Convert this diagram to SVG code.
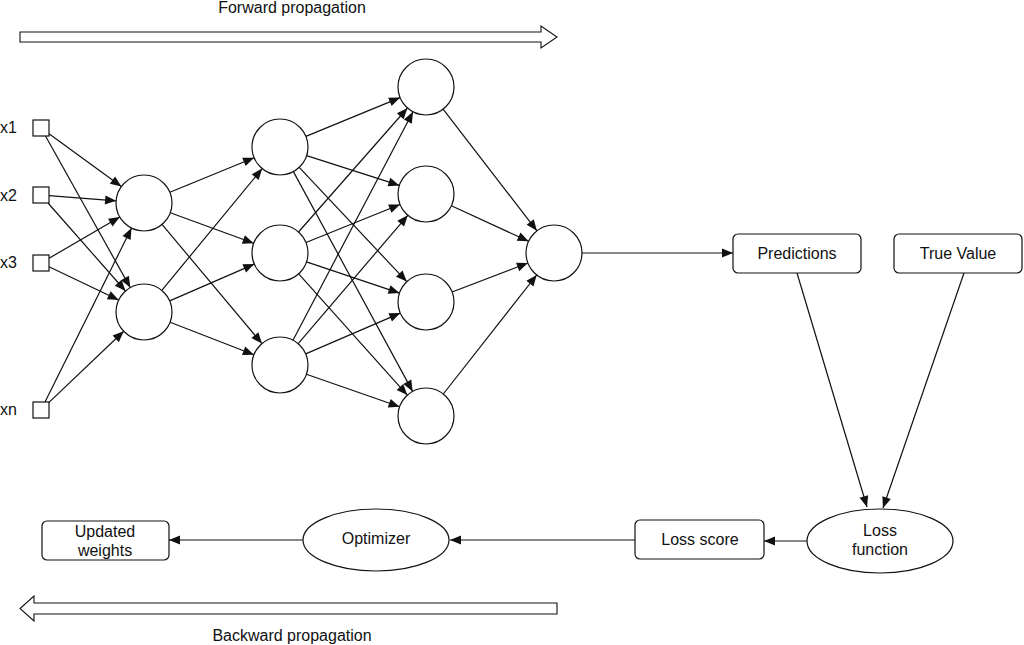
<svg xmlns="http://www.w3.org/2000/svg" width="1024" height="645" viewBox="0 0 1024 645">
<style>
.n{fill:#fff;stroke:#111;stroke-width:1.2}
.e{fill:none;stroke:#111;stroke-width:1.2;marker-end:url(#ah)}
.t{font-family:"Liberation Sans",Arial,sans-serif;font-size:16px;fill:#111;text-anchor:middle}
.l{font-family:"Liberation Sans",Arial,sans-serif;font-size:16px;fill:#111}
.big{fill:#fff;stroke:#111;stroke-width:1.1}
</style>
<defs>
<marker id="ah" markerUnits="userSpaceOnUse" markerWidth="12" markerHeight="10" refX="11" refY="4.5" orient="auto" overflow="visible">
<path d="M0,0 L11,4.5 L0,9 z" fill="#111"/>
</marker>
</defs>
<rect width="1024" height="645" fill="#fff"/>
<g id="forward">
<path class="big" d="M20,32 L541,32 L541,26 L557,37 L541,48 L541,42 L20,42 z"/>
<text class="t" x="292" y="13">Forward propagation</text>
</g>
<g id="backward">
<path class="big" d="M557,603 L34,603 L34,596 L20,608.5 L34,621 L34,614 L557,614 z"/>
<text class="t" x="292" y="641">Backward propagation</text>
</g>
<g id="connectors">
<line class="e" x1="49" y1="133.8" x2="121.4" y2="186.5"/>
<line class="e" x1="45.5" y1="136" x2="130.3" y2="287.6"/>
<line class="e" x1="49" y1="195.6" x2="116.1" y2="200.8"/>
<line class="e" x1="48" y1="203" x2="125.5" y2="291"/>
<line class="e" x1="49" y1="258.3" x2="119.8" y2="217.1"/>
<line class="e" x1="49" y1="266.8" x2="118.7" y2="300"/>
<line class="e" x1="45" y1="402" x2="131.5" y2="228.1"/>
<line class="e" x1="49" y1="402.4" x2="123.7" y2="331.3"/>
<line class="e" x1="169.9" y1="192.3" x2="254.1" y2="157.7"/>
<line class="e" x1="170.3" y1="212.7" x2="253.7" y2="243.3"/>
<line class="e" x1="162" y1="224.4" x2="262" y2="343.6"/>
<line class="e" x1="161.8" y1="290.4" x2="262.2" y2="168.6"/>
<line class="e" x1="169.7" y1="300.9" x2="254.3" y2="264.1"/>
<line class="e" x1="170.1" y1="322.2" x2="253.9" y2="354.8"/>
<line class="e" x1="305.9" y1="136.4" x2="400.1" y2="97.6"/>
<line class="e" x1="306.6" y1="155.6" x2="399.4" y2="185.4"/>
<line class="e" x1="299.2" y1="167.4" x2="406.8" y2="281.6"/>
<line class="e" x1="293.4" y1="171.6" x2="412.6" y2="391.4"/>
<line class="e" x1="298.5" y1="232" x2="407.5" y2="108"/>
<line class="e" x1="306" y1="242.5" x2="400" y2="204.5"/>
<line class="e" x1="306.5" y1="261.9" x2="399.5" y2="293.1"/>
<line class="e" x1="298.7" y1="273.9" x2="407.3" y2="395.1"/>
<line class="e" x1="293" y1="340.2" x2="413" y2="111.8"/>
<line class="e" x1="298.2" y1="343.7" x2="407.8" y2="215.3"/>
<line class="e" x1="305.7" y1="353.9" x2="400.3" y2="313.1"/>
<line class="e" x1="306.4" y1="374.2" x2="399.6" y2="406.8"/>
<line class="e" x1="443.1" y1="109.2" x2="536.9" y2="230.8"/>
<line class="e" x1="451.4" y1="205.7" x2="528.6" y2="241.3"/>
<line class="e" x1="452.1" y1="292" x2="527.9" y2="263"/>
<line class="e" x1="443.3" y1="394" x2="536.7" y2="275"/>
<line class="e" x1="582" y1="253" x2="733" y2="253"/>
<line class="e" x1="797" y1="273" x2="867" y2="507"/>
<line class="e" x1="964" y1="273" x2="883" y2="508"/>
<line class="e" x1="807" y1="541" x2="764" y2="541"/>
<line class="e" x1="635" y1="540" x2="450" y2="540"/>
<line class="e" x1="303" y1="540" x2="169" y2="540"/>
</g>
<g id="in-x1"><rect class="n" x="33" y="120" width="16" height="16"/><text class="l" x="0" y="133">x1</text></g>
<g id="in-x2"><rect class="n" x="33" y="187" width="16" height="16"/><text class="l" x="0" y="201">x2</text></g>
<g id="in-x3"><rect class="n" x="33" y="255" width="16" height="16"/><text class="l" x="0" y="268">x3</text></g>
<g id="in-xn"><rect class="n" x="33" y="402" width="16" height="16"/><text class="l" x="0" y="415">xn</text></g>
<g id="h1a"><circle class="n" cx="144" cy="203" r="28"/></g>
<g id="h1b"><circle class="n" cx="144" cy="312" r="28"/></g>
<g id="h2a"><circle class="n" cx="280" cy="147" r="28"/></g>
<g id="h2b"><circle class="n" cx="280" cy="253" r="28"/></g>
<g id="h2c"><circle class="n" cx="280" cy="365" r="28"/></g>
<g id="h3a"><circle class="n" cx="426" cy="87" r="28"/></g>
<g id="h3b"><circle class="n" cx="426" cy="194" r="28"/></g>
<g id="h3c"><circle class="n" cx="426" cy="302" r="28"/></g>
<g id="h3d"><circle class="n" cx="426" cy="416" r="28"/></g>
<g id="out"><circle class="n" cx="554" cy="253" r="28"/></g>
<g id="predictions"><rect class="n" x="733" y="234" width="128" height="39" rx="5"/><text class="t" x="797" y="259">Predictions</text></g>
<g id="truevalue"><rect class="n" x="894" y="234" width="128" height="39" rx="5"/><text class="t" x="958" y="259">True Value</text></g>
<g id="lossfunction"><ellipse class="n" cx="880" cy="541" rx="73" ry="32"/><text class="t" x="880" y="536">Loss</text><text class="t" x="880" y="555">function</text></g>
<g id="lossscore"><rect class="n" x="635" y="520" width="129" height="39" rx="5"/><text class="t" x="700" y="545">Loss score</text></g>
<g id="optimizer"><ellipse class="n" cx="376" cy="540" rx="73" ry="31"/><text class="t" x="376" y="544">Optimizer</text></g>
<g id="updated"><rect class="n" x="42" y="521" width="127" height="39" rx="5"/><text class="t" x="105" y="537">Updated</text><text class="t" x="105" y="556">weights</text></g>
</svg>
